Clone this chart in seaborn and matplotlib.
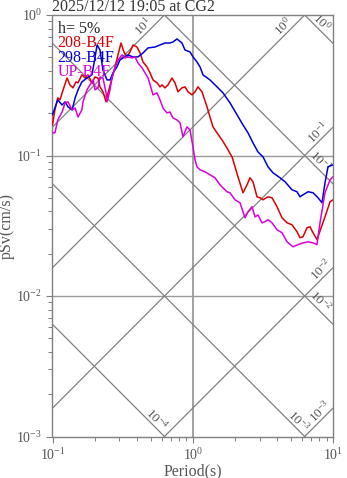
import numpy as np
import pandas as pd
import matplotlib
matplotlib.use("Agg")
import matplotlib.pyplot as plt
import seaborn as sns

# ---- data ----
title = "2025/12/12 19:05 at CG2"
damping_label = "h= 5%"
series_names = ["208-B4F", "298-B4F", "UP-B4F"]

t_208 = [0.100, 0.104, 0.109, 0.113, 0.119, 0.127, 0.133, 0.140, 0.147, 0.152, 0.162, 0.171,
         0.179, 0.191, 0.201, 0.211, 0.218, 0.229, 0.241, 0.249, 0.266, 0.279, 0.293, 0.308,
         0.323, 0.340, 0.357, 0.375, 0.400, 0.421, 0.442, 0.472, 0.496, 0.521, 0.556, 0.584,
         0.604, 0.634, 0.666, 0.711, 0.747, 0.785, 0.838, 0.880, 0.925, 0.988, 1.038, 1.090,
         1.164, 1.264, 1.327, 1.394, 1.489, 1.617, 1.754, 1.905, 1.936, 2.102, 2.282, 2.437,
         2.560, 2.689, 2.872, 3.016, 3.168, 3.440, 3.674, 3.988, 4.330, 4.699, 5.103, 5.538,
         5.817, 6.110, 6.526, 6.855, 7.202, 7.690, 8.078, 8.770, 9.520, 10.0]
sv_208 = [0.165, 0.211, 0.257, 0.249, 0.293, 0.356, 0.318, 0.303, 0.334, 0.329, 0.375, 0.356,
          0.375, 0.329, 0.362, 0.356, 0.308, 0.284, 0.241, 0.279, 0.356, 0.427, 0.520, 0.632,
          0.546, 0.503, 0.546, 0.612, 0.592, 0.537, 0.463, 0.427, 0.387, 0.345, 0.329, 0.308,
          0.318, 0.303, 0.318, 0.356, 0.329, 0.284, 0.303, 0.308, 0.284, 0.270, 0.284, 0.308,
          0.284, 0.222, 0.188, 0.160, 0.145, 0.129, 0.113, 0.0978, 0.0931, 0.0705, 0.0543, 0.0619,
          0.0694, 0.0650, 0.0508, 0.0500, 0.0484, 0.0508, 0.0500, 0.0432, 0.0360, 0.0332, 0.0321, 0.0287,
          0.0260, 0.0264, 0.0306, 0.0311, 0.0282, 0.0252, 0.0290, 0.0366, 0.0468, 0.0484]

t_298 = [0.100, 0.104, 0.109, 0.117, 0.123, 0.129, 0.138, 0.145, 0.152, 0.162, 0.176, 0.191,
         0.198, 0.208, 0.218, 0.229, 0.245, 0.257, 0.270, 0.288, 0.303, 0.318, 0.345, 0.375,
         0.407, 0.442, 0.480, 0.538, 0.584, 0.634, 0.688, 0.723, 0.772, 0.838, 0.880, 0.956,
         1.004, 1.072, 1.127, 1.184, 1.327, 1.489, 1.643, 1.843, 2.068, 2.282, 2.477, 2.689,
         2.918, 3.168, 3.440, 3.735, 4.190, 4.549, 5.103, 5.538, 5.817, 6.110, 6.633, 7.202,
         7.817, 8.347, 8.770, 9.212, 10.0]
sv_298 = [0.195, 0.218, 0.249, 0.229, 0.241, 0.222, 0.211, 0.257, 0.293, 0.334, 0.356, 0.375,
          0.456, 0.612, 0.564, 0.406, 0.345, 0.345, 0.387, 0.427, 0.479, 0.495, 0.520, 0.503,
          0.503, 0.537, 0.583, 0.592, 0.612, 0.632, 0.632, 0.643, 0.675, 0.632, 0.564, 0.546,
          0.503, 0.463, 0.427, 0.375, 0.345, 0.308, 0.279, 0.237, 0.195, 0.165, 0.145, 0.123,
          0.106, 0.0978, 0.0831, 0.0753, 0.0694, 0.0650, 0.0570, 0.0552, 0.0508, 0.0525, 0.0552, 0.0543,
          0.0500, 0.0461, 0.0639, 0.0831, 0.0858]

t_up = [0.100, 0.104, 0.109, 0.117, 0.123, 0.129, 0.138, 0.145, 0.152, 0.162, 0.165, 0.176,
        0.185, 0.195, 0.201, 0.211, 0.218, 0.229, 0.241, 0.245, 0.257, 0.266, 0.279, 0.293,
        0.313, 0.329, 0.345, 0.369, 0.388, 0.407, 0.435, 0.457, 0.480, 0.496, 0.521, 0.556,
        0.584, 0.614, 0.655, 0.688, 0.723, 0.772, 0.811, 0.852, 0.910, 0.956, 1.004, 1.038,
        1.072, 1.127, 1.222, 1.327, 1.441, 1.564, 1.754, 1.843, 2.001, 2.172, 2.358, 2.477,
        2.646, 2.779, 2.918, 3.117, 3.274, 3.440, 3.674, 3.988, 4.330, 4.699, 5.186, 5.627,
        6.110, 6.633, 7.202, 7.690, 8.078, 8.770, 9.520, 10.0]
sv_up = [0.145, 0.145, 0.179, 0.204, 0.237, 0.241, 0.211, 0.218, 0.188, 0.211, 0.241, 0.293,
         0.318, 0.345, 0.293, 0.303, 0.362, 0.356, 0.279, 0.241, 0.293, 0.362, 0.420, 0.479,
         0.520, 0.495, 0.503, 0.495, 0.503, 0.456, 0.420, 0.387, 0.356, 0.320, 0.270, 0.279,
         0.249, 0.218, 0.201, 0.204, 0.185, 0.179, 0.171, 0.136, 0.160, 0.152, 0.115, 0.0931,
         0.0831, 0.0791, 0.0765, 0.0729, 0.0694, 0.0619, 0.0552, 0.0543, 0.0484, 0.0461, 0.0360, 0.0398,
         0.0432, 0.0366, 0.0377, 0.0332, 0.0338, 0.0349, 0.0332, 0.0296, 0.0282, 0.0243, 0.0224, 0.0232,
         0.0239, 0.0243, 0.0239, 0.0232, 0.0332, 0.0543, 0.0671, 0.0705]

series_colors = ["#dd0000", "#0000dd", "#dd00dd"]

# tripartite guide levels
sd_levels = [1e-4, 1e-3, 1e-2, 1e-1, 1e0]      # displacement (cm), descending
sa_levels = [1e-3, 1e-2, 1e-1, 1e0, 1e1]       # acceleration (cm/s^2), ascending
sd_label_T = {1e-4: 0.556, 1e-3: 5.72, 1e-2: 8.08, 1e-1: 8.08, 1e0: 8.35}
sa_label_T = {1e-3: 8.08, 1e-2: 8.21, 1e-1: 7.82, 1e0: 4.40, 1e1: 0.441}

# ---- style ----
sns.set_style("ticks")
plt.rcParams["font.family"] = ["Liberation Serif", "DejaVu Serif"]
plt.rcParams["mathtext.fontset"] = "custom"
plt.rcParams["mathtext.rm"] = "Liberation Serif"
plt.rcParams["mathtext.it"] = "Liberation Serif:italic"
plt.rcParams["mathtext.bf"] = "Liberation Serif:bold"

GRAY = "#808080"
TXT = "#555555"

fig = plt.figure(figsize=(3.47, 4.78), dpi=100)
ax = fig.add_axes([52.5 / 347, 41.5 / 478, 280.5 / 347, 421.5 / 478])
ax.set_xscale("log")
ax.set_yscale("log")
ax.set_xlim(0.1, 10)
ax.set_ylim(1e-3, 1)

# grid lines
ax.axvline(1.0, color="#9a9a9a", lw=1.3, zorder=1)
for yv in [1e-1, 1e-2]:
    ax.axhline(yv, color="#9a9a9a", lw=1.0, zorder=1)

# diagonal guide lines
T_line = np.array([0.1, 10.0])
for sd in sd_levels:
    ax.plot(T_line, 2 * np.pi * sd / T_line, color=GRAY, lw=0.9, zorder=1)
for sa in sa_levels:
    ax.plot(T_line, sa * T_line / (2 * np.pi), color=GRAY, lw=0.9, zorder=1)

def exp_label(v):
    return r"$\mathdefault{10^{%d}}$" % int(round(np.log10(v)))

for sd in sd_levels:
    T = sd_label_T[sd]
    ax.annotate(exp_label(sd), xy=(T, 2 * np.pi * sd / T), xytext=(0, 10),
                textcoords="offset pixels", rotation=-45, ha="center", va="center",
                fontsize=9.5, color=TXT, zorder=2)
for sa in sa_levels:
    T = sa_label_T[sa]
    ax.annotate(exp_label(sa), xy=(T, sa * T / (2 * np.pi)), xytext=(0, 10),
                textcoords="offset pixels", rotation=45, ha="center", va="center",
                fontsize=9.5, color=TXT, zorder=2)

# spectra
for name, t, sv, c in zip(series_names, [t_208, t_298, t_up], [sv_208, sv_298, sv_up], series_colors):
    df = pd.DataFrame({"Period": t, "pSv": sv})
    sns.lineplot(data=df, x="Period", y="pSv", color=c, lw=1.1, ax=ax,
                 sort=False, estimator=None, zorder=3)

# annotation text
ax.text(0.018, 1 - 14 / 422, damping_label, transform=ax.transAxes, ha="left", va="center",
        fontsize=11.5, color="#222222")
for i, (name, c) in enumerate(zip(series_names, series_colors)):
    ax.text(0.018, 1 - (28.3 + 14.3 * i) / 422, name, transform=ax.transAxes, ha="left",
            va="center", fontsize=11.5, color=c)

ax.set_title(title, loc="left", pad=2, fontsize=11.5, color="#333333")
ax.set_xlabel("Period(s)", fontsize=11.5, color=TXT)
ax.set_ylabel("pSv(cm/s)", fontsize=11.5, color=TXT)
ax.xaxis.set_label_coords(0.5, -(463.5 - 436.5) / 421.5)
ax.yaxis.set_label_coords(-(52.5 - 15) / 280.5, 0.5)

for s in ax.spines.values():
    s.set_color(GRAY)
    s.set_linewidth(1.0)
    s.set_visible(True)
ax.tick_params(which="major", direction="out", length=4, width=0.8, color=GRAY,
               labelcolor=TXT, labelsize=10, pad=3.5)
ax.tick_params(which="minor", direction="out", length=3, width=0.7, color=GRAY)
ax.grid(False)

fig.savefig("out.png", dpi=100)
